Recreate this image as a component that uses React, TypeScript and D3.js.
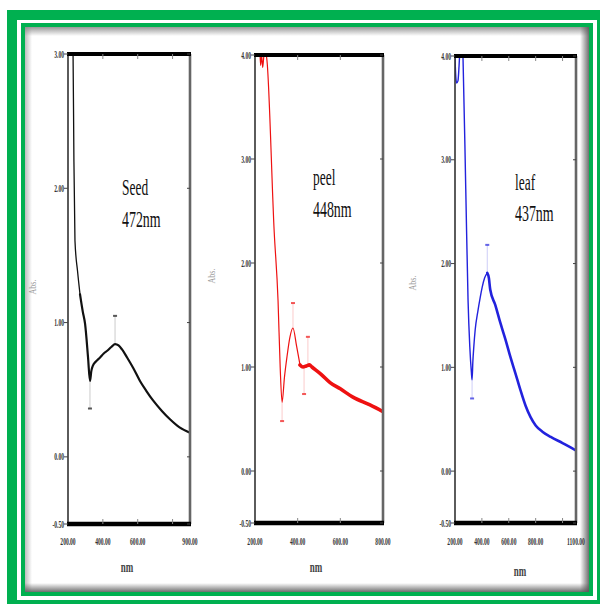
import React from "react";
import * as d3 from "d3";

// ---------- data (wavelength nm, absorbance) ----------
const seedWavelength = [222, 229, 234, 240, 255, 269, 285, 298, 315, 326, 334, 343, 360, 384, 405, 425, 450, 470, 490, 510, 539, 575, 613, 650, 688, 740, 785, 840, 900];
const seedAbs = [3.3, 3.0, 2.2, 1.61, 1.38, 1.21, 1.08, 0.99, 0.74, 0.565, 0.64, 0.68, 0.71, 0.74, 0.77, 0.79, 0.82, 0.84, 0.83, 0.8, 0.74, 0.66, 0.565, 0.49, 0.42, 0.34, 0.28, 0.22, 0.18];
const peelWavelength = [222, 226, 231, 236, 241, 247, 256, 290, 308, 318, 327, 338, 350, 364, 378, 395, 411, 425, 440, 455, 467, 510, 552, 600, 659, 739, 800];
const peelAbs = [4.1, 3.9, 4.0, 3.88, 3.98, 4.05, 3.95, 2.3, 1.64, 1.0, 0.66, 0.9, 1.1, 1.29, 1.375, 1.2, 1.02, 1.0, 1.01, 1.02, 1.0, 0.93, 0.85, 0.79, 0.71, 0.635, 0.57];
const leafWavelength = [200, 206, 212, 222, 230, 236, 250, 260, 280, 297, 310, 322, 327, 333, 340, 350, 370, 387, 402, 420, 440, 452, 462, 500, 537, 575, 612, 650, 687, 725, 762, 800, 850, 912, 1000, 1085, 1100];
const leafAbs = [3.98, 3.8, 3.74, 3.76, 3.9, 4.05, 4.3, 3.96, 2.72, 1.65, 1.2, 0.95, 0.88, 1.06, 1.2, 1.36, 1.54, 1.67, 1.77, 1.86, 1.91, 1.86, 1.75, 1.6, 1.43, 1.27, 1.1, 0.94, 0.78, 0.63, 0.52, 0.44, 0.38, 0.33, 0.27, 0.21, 0.2];

// peak / valley markers: wavelength, marker level, curve level
const seedMarkW = [470, 326];
const seedMarkV = [1.05, 0.36];
const seedMarkFrom = [0.84, 0.565];
const peelMarkW = [378, 327, 448, 430];
const peelMarkV = [1.615, 0.48, 1.29, 0.74];
const peelMarkFrom = [1.375, 0.66, 1.01, 1.0];
const leafMarkW = [440, 327];
const leafMarkV = [2.18, 0.7];
const leafMarkFrom = [1.91, 0.88];

// ticks
const seedYTicks = [3, 2, 1, 0, -0.5];
const peelYTicks = [4, 3, 2, 1, 0, -0.5];
const leafYTicks = [4, 3, 2, 1, 0, -0.5];
const seedXLabels = [200, 400, 600, 900];
const seedXInner = [400, 600, 800];
const peelXLabels = [200, 400, 600, 800];
const peelXInner = [400, 600];
const leafXLabels = [200, 400, 600, 800, 1100];
const leafXInner = [400, 600, 800, 1000];

const sampleNames = ["Seed", "peel", "leaf"];
const peakLabels = ["472nm", "448nm", "437nm"];

const GREEN = "#00b050";

function Cond({ x, y, size, sx, anchor, fill, weight, children, rotate }: any) {
  return (
    <text
      transform={`translate(${x},${y})${rotate ? ` rotate(${rotate})` : ""} scale(${sx},1)`}
      fontFamily="'Liberation Serif', 'DejaVu Serif', serif"
      fontSize={size}
      textAnchor={anchor || "start"}
      fill={fill || "#222"}
      fontWeight={weight || "normal"}
    >
      {children}
    </text>
  );
}

function Panel({ id, w, v, split, xDomain, yDomain, left, right, top, bottom, color, thin, thick, yTicks, xLabels, xInner, markW, markV, markFrom, name, peak, textX, nameY, peakY, absX, absY, nmX, nmY }: any) {
  const x = d3.scaleLinear().domain(xDomain).range([left, right]);
  const y = d3.scaleLinear().domain(yDomain).range([bottom, top]);
  const pts: [number, number][] = w.map((ww: number, i: number) => [ww, v[i]]);
  const line = d3
    .line<[number, number]>()
    .x((d) => x(d[0]))
    .y((d) => y(d[1]))
    .curve(d3.curveMonotoneX);
  const thinPts = pts.slice(0, split + 1);
  const thickPts = pts.slice(split);
  const fmt = (n: number) => n.toFixed(2);
  return (
    <g>
      <defs>
        <clipPath id={`clip-${id}`}>
          <rect x={left} y={top} width={right - left} height={bottom - top} />
        </clipPath>
      </defs>
      {/* markers */}
      {markW.map((mw: number, i: number) => (
        <g key={`m${i}`}>
          <line x1={x(mw)} x2={x(mw)} y1={y(markFrom[i])} y2={y(markV[i])} stroke={color} strokeOpacity={0.22} strokeWidth={1} />
          <line x1={x(mw) - 2} x2={x(mw) + 2} y1={y(markV[i])} y2={y(markV[i])} stroke={color} strokeOpacity={0.7} strokeWidth={2} />
        </g>
      ))}
      <g clipPath={`url(#clip-${id})`}>
        <path d={line(thinPts) || ""} fill="none" stroke={color} strokeWidth={thin} strokeLinejoin="round" />
        <path d={line(thickPts) || ""} fill="none" stroke={color} strokeWidth={thick} strokeLinejoin="round" strokeLinecap="round" />
      </g>
      {/* frame */}
      <line x1={left} x2={left} y1={top} y2={bottom} stroke="#333" strokeWidth={1.6} />
      <line x1={right} x2={right} y1={top} y2={bottom} stroke="#666" strokeWidth={2.6} />
      <line x1={left - 1} x2={right + 1} y1={top} y2={top} stroke="#000" strokeWidth={4} />
      <line x1={left - 1} x2={right + 1} y1={bottom} y2={bottom} stroke="#000" strokeWidth={4.5} />
      {/* y ticks and labels */}
      {yTicks.map((t: number) => (
        <g key={`y${t}`}>
          <line x1={left - 4} x2={left} y1={y(t)} y2={y(t)} stroke="#444" strokeWidth={1} />
          <line x1={right - 3} x2={right} y1={y(t)} y2={y(t)} stroke="#444" strokeWidth={1} />
          <Cond x={left - 4} y={y(t) + 3.5} size={10.5} sx={0.53} anchor="end" fill="#333" weight="bold">
            {fmt(t)}
          </Cond>
        </g>
      ))}
      {xInner.map((t: number) => (
        <g key={`xi${t}`}>
          <line x1={x(t)} x2={x(t)} y1={top} y2={top + 5} stroke="#888" strokeWidth={1} />
          <line x1={x(t)} x2={x(t)} y1={bottom - 5} y2={bottom} stroke="#888" strokeWidth={1} />
        </g>
      ))}
      {xLabels.map((t: number) => (
        <Cond key={`xl${t}`} x={x(t)} y={545} size={10.5} sx={0.53} anchor="middle" fill="#333" weight="bold">
          {fmt(t)}
        </Cond>
      ))}
      {/* annotations */}
      <Cond x={textX} y={nameY} size={24} sx={0.56} fill="#111">
        {name}
      </Cond>
      <Cond x={textX} y={peakY} size={24} sx={0.58} fill="#111">
        {peak}
      </Cond>
      <Cond x={absX} y={absY} size={10} sx={0.8} anchor="middle" fill="#999" rotate={-90}>
        Abs.
      </Cond>
      <Cond x={nmX} y={nmY} size={15} sx={0.6} anchor="middle" fill="#444" weight="bold">
        nm
      </Cond>
    </g>
  );
}

export default function App() {
  return (
    <svg width={600} height={604} style={{ position: "absolute", left: 0, top: 0, background: "#fff" }}>
      <defs>
        <linearGradient id="shTop" x1="0" y1="0" x2="0" y2="1">
          <stop offset="0" stopColor="#777" stopOpacity={0.75} />
          <stop offset="1" stopColor="#777" stopOpacity={0} />
        </linearGradient>
        <linearGradient id="shLeft" x1="0" y1="0" x2="1" y2="0">
          <stop offset="0" stopColor="#888" stopOpacity={0.55} />
          <stop offset="1" stopColor="#888" stopOpacity={0} />
        </linearGradient>
        <linearGradient id="shRight" x1="1" y1="0" x2="0" y2="0">
          <stop offset="0" stopColor="#555" stopOpacity={0.85} />
          <stop offset="1" stopColor="#555" stopOpacity={0} />
        </linearGradient>
        <linearGradient id="shBottom" x1="0" y1="1" x2="0" y2="0">
          <stop offset="0" stopColor="#555" stopOpacity={0.85} />
          <stop offset="1" stopColor="#555" stopOpacity={0} />
        </linearGradient>
      </defs>
      {/* border */}
      <rect x={7} y={10} width={600} height={600} fill={GREEN} />
      <rect x={17} y={20} width={580} height={580} fill="#fff" />
      <rect x={21} y={23} width={572} height={573} fill={GREEN} />
      <rect x={25} y={27} width={564} height={565} fill="#fff" />
      <rect x={25} y={27} width={564} height={9} fill="url(#shTop)" />
      <rect x={25} y={27} width={7} height={565} fill="url(#shLeft)" />
      <rect x={580} y={27} width={9} height={565} fill="url(#shRight)" />
      <rect x={25} y={583} width={564} height={9} fill="url(#shBottom)" />

      <Panel
        id="seed" w={seedWavelength} v={seedAbs} split={5}
        xDomain={[200, 900]} yDomain={[-0.5, 3]} left={68} right={190} top={54} bottom={524}
        color="#111" thin={1.3} thick={2.2}
        yTicks={seedYTicks} xLabels={seedXLabels} xInner={seedXInner}
        markW={seedMarkW} markV={seedMarkV} markFrom={seedMarkFrom}
        name={sampleNames[0]} peak={peakLabels[0]} textX={122} nameY={195} peakY={227}
        absX={36} absY={287} nmX={127} nmY={572}
      />
      <Panel
        id="peel" w={peelWavelength} v={peelAbs} split={16}
        xDomain={[200, 800]} yDomain={[-0.5, 4]} left={255} right={383} top={55} bottom={523}
        color="#ee1111" thin={1.2} thick={3.6}
        yTicks={peelYTicks} xLabels={peelXLabels} xInner={peelXInner}
        markW={peelMarkW} markV={peelMarkV} markFrom={peelMarkFrom}
        name={sampleNames[1]} peak={peakLabels[1]} textX={313} nameY={185} peakY={217}
        absX={215} absY={276} nmX={316} nmY={572}
      />
      <Panel
        id="leaf" w={leafWavelength} v={leafAbs} split={20}
        xDomain={[200, 1100]} yDomain={[-0.5, 4]} left={455} right={576} top={56} bottom={523}
        color="#2222dd" thin={1.4} thick={2.6}
        yTicks={leafYTicks} xLabels={leafXLabels} xInner={leafXInner}
        markW={leafMarkW} markV={leafMarkV} markFrom={leafMarkFrom}
        name={sampleNames[2]} peak={peakLabels[2]} textX={515} nameY={190} peakY={221}
        absX={416} absY={283} nmX={520} nmY={576}
      />
    </svg>
  );
}
